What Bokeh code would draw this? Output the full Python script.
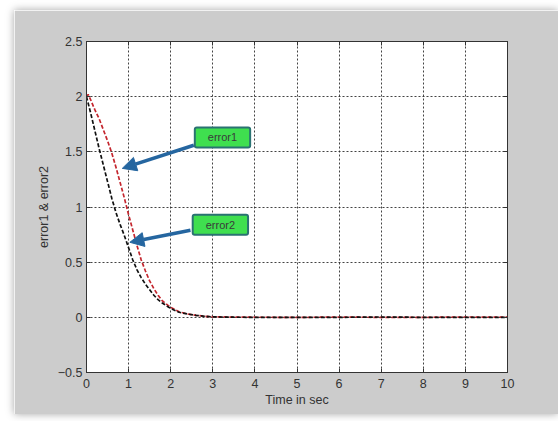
from bokeh.plotting import figure
from bokeh.models import Range1d, Arrow, NormalHead, Label, LinearAxis, FixedTicker
from bokeh.embed import file_html
from bokeh.resources import INLINE

# data
t = [0.0, 0.04, 0.1, 0.2, 0.3, 0.4, 0.5, 0.6, 0.7, 0.8, 0.9, 1.0, 1.1, 1.2, 1.3, 1.4,
     1.5, 1.6, 1.7, 1.8, 1.9, 2.0, 2.2, 2.4, 2.6, 2.8, 3.0, 3.5, 4.0, 5.0, 6.0, 7.0,
     8.0, 9.0, 10.0]
error1 = [2.0, 2.02, 1.97, 1.88, 1.8, 1.7, 1.6, 1.49, 1.36, 1.22, 1.08, 0.93, 0.79, 0.65,
          0.52, 0.42, 0.33, 0.26, 0.2, 0.15, 0.12, 0.09, 0.05, 0.03, 0.018, 0.01, 0.005,
          0.002, 0.001, 0.0, 0.002, 0.0, 0.0, 0.003, 0.002]
error2 = [2.0, 1.94, 1.85, 1.69, 1.53, 1.38, 1.23, 1.08, 0.95, 0.84, 0.74, 0.63, 0.52,
          0.43, 0.36, 0.3, 0.25, 0.2, 0.16, 0.13, 0.105, 0.08, 0.046, 0.03, 0.018, 0.01,
          0.004, 0.001, 0.0, 0.0, 0.0, 0.003, 0.0, 0.0, 0.0]

x_ticks = [0, 1, 2, 3, 4, 5, 6, 7, 8, 9, 10]
y_ticks = [-0.5, 0, 0.5, 1, 1.5, 2, 2.5]

# annotations: (label, label x, label y, arrow start x, y, arrow end x, y)
notes = [("error1", 3.23, 1.63, 2.55, 1.56, 0.85, 1.35),
         ("error2", 3.18, 0.84, 2.47, 0.79, 1.03, 0.68)]

FONT = "Liberation Sans"
TXT = "#333333"

p = figure(width=544, height=404, output_backend="svg", toolbar_location=None,
           x_range=Range1d(0, 10), y_range=Range1d(-0.5, 2.5),
           min_border_left=72, min_border_right=51, min_border_top=31, min_border_bottom=42,
           border_fill_color="#cccccc", background_fill_color="white",
           outline_line_color="#333333", outline_line_width=1,
           margin=(10, 0, 0, 14),
           styles={"box-shadow": "0 0 8px rgba(0,0,0,0.35)"})

for ax, ticks in ((p.xaxis[0], x_ticks), (p.yaxis[0], y_ticks)):
    ax.ticker = FixedTicker(ticks=ticks)
    ax.major_tick_in = 4
    ax.major_tick_out = 0
    ax.minor_tick_line_color = None
    ax.axis_line_color = "#333333"
    ax.major_tick_line_color = "#333333"
    ax.major_label_text_font = FONT
    ax.major_label_text_font_size = "12.5px"
    ax.major_label_text_color = TXT
    ax.axis_label_text_font = FONT
    ax.axis_label_text_font_size = "12.5px"
    ax.axis_label_text_font_style = "normal"
    ax.axis_label_text_color = TXT

p.xaxis[0].axis_label = "Time in sec"
p.xaxis[0].axis_label_standoff = 2
p.xaxis[0].major_label_standoff = 6
p.yaxis[0].axis_label = "error1 & error2"
p.yaxis[0].axis_label_standoff = 4
p.yaxis[0].major_label_standoff = 4

# tick marks on the top and right edges of the box, without labels
for loc, ticks in (("above", x_ticks), ("right", y_ticks)):
    a = LinearAxis(ticker=FixedTicker(ticks=ticks), major_tick_in=4, major_tick_out=0,
                   minor_tick_line_color=None, major_label_text_color=None,
                   major_label_text_font_size="2px",
                   axis_line_color="#333333", major_tick_line_color="#333333",
                   major_label_standoff=0)
    p.add_layout(a, loc)

p.xgrid[0].ticker = FixedTicker(ticks=x_ticks)
p.ygrid[0].ticker = FixedTicker(ticks=y_ticks)
for g in (p.xgrid[0], p.ygrid[0]):
    g.grid_line_color = "#222222"
    g.grid_line_dash = "2 2"
    g.grid_line_width = 1
    g.grid_line_alpha = 0.85

p.line(t, error1, line_color="#c4262e", line_width=1.7, line_dash="4 2")
p.line(t, error2, line_color="#111111", line_width=1.7, line_dash="4 2")

for text, lx, ly, x0, y0, x1, y1 in notes:
    p.add_layout(Arrow(end=NormalHead(size=14, fill_color="#2566a0", line_color="#2566a0"),
                       x_start=x0, y_start=y0, x_end=x1, y_end=y1,
                       line_color="#2566a0", line_width=3.5))
    p.add_layout(Label(x=lx, y=ly, text=text, text_align="center", text_baseline="middle",
                       text_font=FONT, text_font_size="11px", text_color="#3a3a3a",
                       background_fill_color="#3fdf4f", border_line_color="#2a7272",
                       border_line_width=2, padding=(13, 4), border_radius=2))

open("out.html", "w").write(file_html(p, INLINE))
